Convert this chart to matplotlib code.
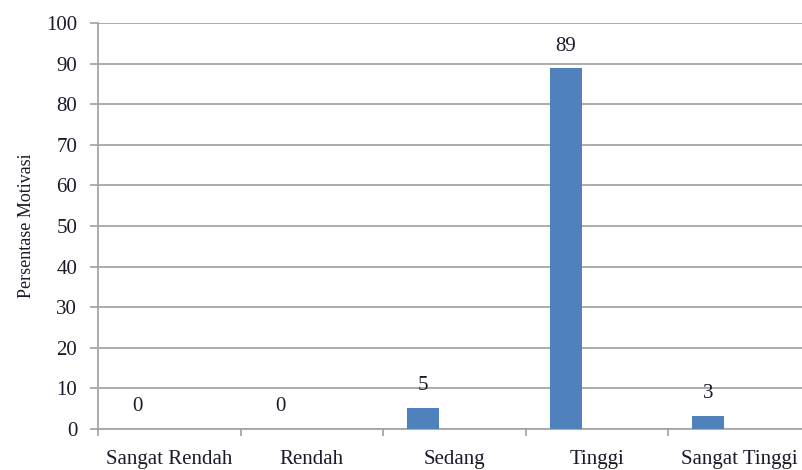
import matplotlib
matplotlib.use("Agg")
import matplotlib.pyplot as plt
import numpy as np

categories = ["Sangat Rendah", "Rendah", "Sedang", "Tinggi", "Sangat Tinggi"]
bar_values = [0, 0, 5.2, 88.8, 3.2]
label_values = ["0", "0", "5", "89", "3"]
yticks = [0, 10, 20, 30, 40, 50, 60, 70, 80, 90, 100]

plt.rcParams['font.family'] = ['Liberation Serif', 'DejaVu Serif']

fig = plt.figure(figsize=(8.02, 4.70), dpi=100)
ax = fig.add_axes([98/802, 41/470, (811-98)/802, (429-23)/470])

grid_color = '#a6a6a6'
text_color = '#1a1a2a'
x = np.arange(len(categories))
offset = -0.22
width = 0.224
ax.bar(x + offset, bar_values, width=width, color='#4F81BD', zorder=3)

for xi, v, lab in zip(x, bar_values, label_values):
    ax.annotate(lab, (xi + offset, v), xytext=(0, 16), textcoords='offset points',
                ha='center', va='center', fontsize=15, color=text_color, zorder=4)

ax.set_xlim(-0.5, len(categories) - 0.5)
ax.set_ylim(0, 100)
ax.set_yticks(yticks)
ax.set_yticklabels([str(t) for t in yticks], fontsize=15, color=text_color)
ax.yaxis.grid(True, color=grid_color, linewidth=1.3, zorder=0)
ax.set_axisbelow(True)

ax.set_xticks(np.arange(-0.5, len(categories), 1.0))
ax.set_xticklabels([])
ax.set_xticks(x, minor=True)
ax.set_xticklabels(categories, minor=True, fontsize=15, color=text_color)
ax.tick_params(axis='x', which='minor', length=0, pad=15)
ax.tick_params(axis='x', which='major', length=5, color=grid_color, width=1.3)
ax.tick_params(axis='y', length=6, color=grid_color, width=1.3, pad=9)

for s in ['top', 'right']:
    ax.spines[s].set_visible(False)
for s in ['left', 'bottom']:
    ax.spines[s].set_color(grid_color)
    ax.spines[s].set_linewidth(1.3)

ax.set_ylabel("Persentase Motivasi", fontsize=13, color=text_color, labelpad=8)

fig.savefig("out.png", dpi=100)
